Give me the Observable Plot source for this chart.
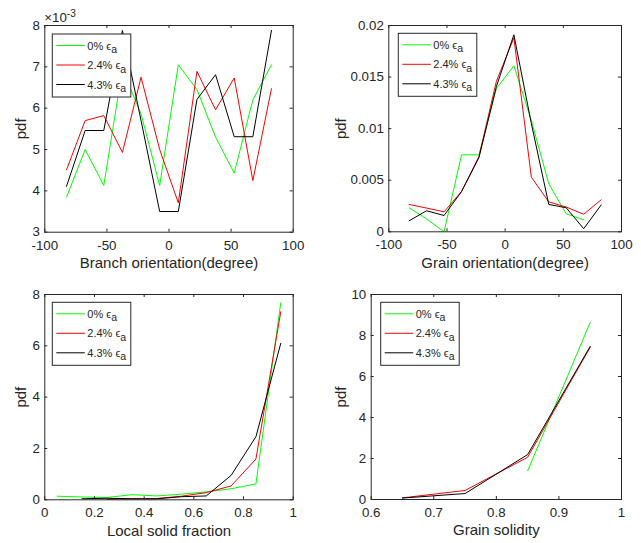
<!DOCTYPE html>
<html><head><meta charset="utf-8">
<script src="https://cdn.jsdelivr.net/npm/d3@7"></script>
<script src="https://cdn.jsdelivr.net/npm/@observablehq/plot@0.6"></script>
<style>
body{margin:0;background:#fff;}
#fig{position:relative;width:641px;height:543px;background:#fff;font-family:"Liberation Sans",Arial,Helvetica,sans-serif;}
#fig svg{position:absolute;}
</style></head><body><div id="fig"></div>
<script>
// ---------- data ----------
const seriesNames = ["0%", "2.4%", "4.3%"];
const seriesColors = ["#00ff00", "#ff0000", "#000000"];

const orientBins = [-82.5, -67.5, -52.5, -37.5, -22.5, -7.5, 7.5, 22.5, 37.5, 52.5, 67.5, 82.5];
// Branch orientation pdf (x 10^-3)
const branch0  = [3.85, 5.0, 4.13, 6.95, 5.86, 4.13, 7.05, 6.45, 5.3, 4.43, 6.2, 7.05];
const branch24 = [4.51, 5.7, 5.82, 4.93, 6.75, 5.0, 3.71, 6.89, 5.96, 6.73, 4.25, 6.47];
const branch43 = [4.11, 5.46, 5.46, 7.88, 5.7, 3.5, 3.5, 6.21, 6.81, 5.31, 5.31, 7.88];
// Grain orientation pdf
const grain0  = [0.00233, 0.00125, 0.0, 0.00746, 0.00746, 0.0139, 0.0161, 0.0108, 0.00465, 0.00175, 0.00116, null];
const grain24 = [0.00265, 0.0023, 0.00194, 0.0039, 0.0073, 0.0146, 0.0188, 0.0053, 0.0029, 0.0024, 0.0017, 0.0031];
const grain43 = [0.00107, 0.00204, 0.00158, 0.0039, 0.0072, 0.0141, 0.0191, 0.0105, 0.00265, 0.00233, 0.0003, 0.0026];

const fractionBins = [0.05, 0.15, 0.25, 0.35, 0.45, 0.55, 0.65, 0.75, 0.85, 0.95];
const frac0  = [0.14, 0.11, 0.09, 0.2, 0.15, 0.22, 0.31, 0.43, 0.62, 7.68];
const frac24 = [null, null, 0.02, 0.04, 0.05, 0.14, 0.28, 0.54, 1.59, 7.33];
const frac43 = [null, 0.04, 0.06, 0.04, 0.04, 0.12, 0.15, 0.95, 2.46, 6.1];

const solidityBins = [0.65, 0.75, 0.85, 0.95];
const sol0  = [null, null, 1.4, 8.64];
const sol24 = [0.08, 0.44, 2.06, 7.43];
const sol43 = [0.07, 0.29, 2.19, 7.47];

const ticksOrientX = [-100, -50, 0, 50, 100];
const ticksBranchY = [3, 4, 5, 6, 7, 8];
const ticksGrainY = [0, 0.005, 0.01, 0.015, 0.02];
const ticksFracX = [0, 0.2, 0.4, 0.6, 0.8, 1];
const ticksFracY = [0, 2, 4, 6, 8];
const ticksSolX = [0.6, 0.7, 0.8, 0.9, 1];
const ticksSolY = [0, 2, 4, 6, 8, 10];

const xLabels = ["Branch orientation(degree)", "Grain orientation(degree)", "Local solid fraction", "Grain solidity"];
const yLabel = "pdf";

// ---------- drawing ----------
const AX = "#262626";
const FONT = '"Liberation Sans", Arial, Helvetica, sans-serif';
const fig = document.getElementById("fig");

function rowsOf(xs, ys) {
  return xs.map((x, i) => ({x, y: ys[i]})).filter(d => d.y != null);
}

function panel(o) {
  const pw = o.width - o.mL - o.mR, ph = o.height - o.mT - o.mB;
  const fmt = d => String(d);
  const marks = [];
  o.series.forEach((ys, i) => {
    marks.push(Plot.line(rowsOf(o.xs, ys), {x: "x", y: "y", stroke: seriesColors[i], strokeWidth: 1}));
  });
  marks.push(
    Plot.frame({stroke: AX, strokeWidth: 1}),
    Plot.tickX(o.xTicks, {x: d => d, insetTop: ph - 3, stroke: AX}),
    Plot.tickX(o.xTicks, {x: d => d, insetBottom: ph - 3, stroke: AX}),
    Plot.tickY(o.yTicks, {y: d => d, insetRight: pw - 3, stroke: AX}),
    Plot.tickY(o.yTicks, {y: d => d, insetLeft: pw - 3, stroke: AX}),
    Plot.axisX(o.xTicks, {tickSize: 0, tickPadding: 8, tickFormat: fmt, label: null, fontSize: 13.3}),
    Plot.axisY(o.yTicks, {tickSize: 0, tickPadding: 5, tickFormat: fmt, label: null, fontSize: 13.3}),
    Plot.text([o.xLabel], {frameAnchor: "bottom", lineAnchor: "middle", textAnchor: "middle", dy: 31, text: d => d, fontSize: 15, fill: AX}),
    Plot.text([yLabel], {frameAnchor: "left", lineAnchor: "middle", textAnchor: "middle", dx: o.yLabelDx, rotate: -90, text: d => d, fontSize: 15, fill: AX})
  );
  const svg = Plot.plot({
    width: o.width, height: o.height,
    marginTop: o.mT, marginRight: o.mR, marginBottom: o.mB, marginLeft: o.mL,
    x: {domain: o.xDomain},
    y: {domain: o.yDomain},
    style: {fontFamily: FONT, fontSize: "13.3px", color: AX, background: "transparent", overflow: "visible"},
    marks
  });
  svg.style.left = o.left + "px";
  svg.style.top = o.top + "px";
  fig.appendChild(svg);

  // legend
  const s = d3.select(svg);
  const bx = o.mL + o.legDx, by = o.mT + o.legDy;
  const g = s.append("g").attr("text-anchor", "start");
  g.append("rect").attr("x", bx).attr("y", by).attr("width", 78.5).attr("height", 63)
    .attr("fill", "#fff").attr("stroke", AX).attr("stroke-width", 1);
  seriesNames.forEach((name, i) => {
    const yy = by + 11.5 + i * 19.5;
    g.append("line").attr("x1", bx + 4).attr("x2", bx + 32.5).attr("y1", yy).attr("y2", yy)
      .attr("stroke", seriesColors[i]).attr("stroke-width", 1);
    const t = g.append("text").attr("x", bx + 35).attr("y", yy + 4)
      .attr("text-anchor", "start")
      .attr("font-size", 11).attr("fill", AX)
      .attr("font-family", FONT);
    t.append("tspan").text(name + " ");
    t.append("tspan").text("\u03F5");
    t.append("tspan").attr("dy", 3.5).attr("font-size", 10.5).text("a");
  });
  return svg;
}

const p1 = panel({left: 0, top: 0, width: 320, height: 270, mT: 25, mR: 27.3, mB: 38.3, mL: 44.3,
  xDomain: [-100, 100], yDomain: [3, 8], xTicks: ticksOrientX, yTicks: ticksBranchY,
  xs: orientBins, series: [branch0, branch24, branch43], xLabel: xLabels[0], yLabelDx: -24, legDx: 8, legDy: 9});
const p2 = panel({left: 320, top: 0, width: 321, height: 270, mT: 25, mR: 20, mB: 38.7, mL: 68.3,
  xDomain: [-100, 100], yDomain: [0, 0.02], xTicks: ticksOrientX, yTicks: ticksGrainY,
  xs: orientBins, series: [grain0, grain24, grain43], xLabel: xLabels[1], yLabelDx: -48, legDx: 10, legDy: 8.3});
const p3 = panel({left: 0, top: 260, width: 320, height: 283, mT: 34, mR: 27.3, mB: 43.7, mL: 44.3,
  xDomain: [0, 1], yDomain: [0, 8], xTicks: ticksFracX, yTicks: ticksFracY,
  xs: fractionBins, series: [frac0, frac24, frac43], xLabel: xLabels[2], yLabelDx: -23.5, legDx: 8, legDy: 8.3});
const p4 = panel({left: 320, top: 260, width: 321, height: 283, mT: 34, mR: 20, mB: 44, mL: 50.7,
  xDomain: [0.6, 1], yDomain: [0, 10], xTicks: ticksSolX, yTicks: ticksSolY,
  xs: solidityBins, series: [sol0, sol24, sol43], xLabel: xLabels[3], yLabelDx: -30, legDx: 10, legDy: 8.3});

// exponent label of panel 1
const ex = d3.select(p1).append("text").attr("x", 44.3).attr("y", 21.5).attr("text-anchor", "start")
  .attr("font-size", 13.3).attr("fill", AX).attr("font-family", FONT);
ex.append("tspan").text("\u00D710");
ex.append("tspan").attr("dy", -5).attr("font-size", 10).text("-3");
</script>
</body></html>
